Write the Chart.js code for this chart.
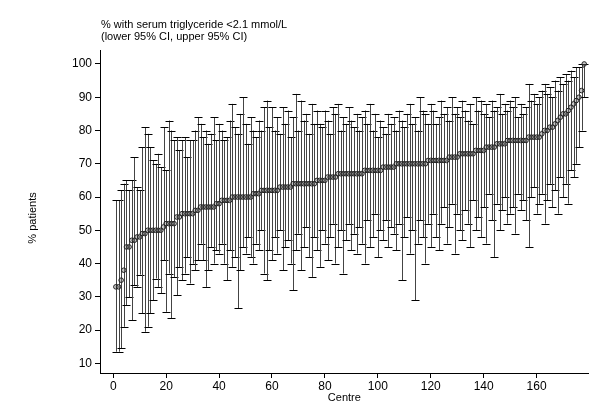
<!DOCTYPE html>
<html><head><meta charset="utf-8">
<script src="https://cdn.jsdelivr.net/npm/chart.js@4"></script>
<style>html,body{margin:0;padding:0;background:#fff}#w{position:relative;width:592px;height:405px}</style>
</head><body><div id="w"><canvas id="c" width="592" height="405"></canvas></div>
<script>
const centres = Array.from({length:178},(_, i)=>i+1);
const pct = [33,33,35,38,45,45,47,47,48,48,49,49,50,50,50,50,50,50,51,52,52,52,52,54,54,55,55,55,55,55,56,56,57,57,57,57,57,57,58,58,59,59,59,59,60,60,60,60,60,60,60,60,61,61,61,62,62,62,62,62,62,62,63,63,63,63,63,64,64,64,64,64,64,64,64,64,65,65,65,65,66,66,66,66,67,67,67,67,67,67,67,67,67,67,68,68,68,68,68,68,68,69,69,69,69,69,70,70,70,70,70,70,70,70,70,70,70,70,71,71,71,71,71,71,71,71,72,72,72,72,73,73,73,73,73,73,74,74,74,74,75,75,75,75,76,76,76,76,77,77,77,77,77,77,77,77,78,78,78,78,78,79,80,80,81,81,82,83,84,85,85,86,87,88,89,90,92,100];
const upper = [59,59,62,64,65,62,65,72,63,62,75,81,79,75,71,70,73,69,81,68,83,80,77,78,74,77,78,72,77,77,80,84,82,
78,80,76,79,84,77,82,80,77,78,83,88,81,79,85,90,82,76,84,80,78,83,80,87,89,81,87,
80,84,79,87,82,86,78,84,91,80,89,83,85,79,88,82,86,82,81,86,83,79,87,85,88,80,84,82,87,83,
81,85,80,84,86,82,88,80,85,78,83,81,79,85,82,84,80,86,83,81,85,88,82,84,80,90,86,85,82,88,
86,82,84,89,85,87,83,90,85,87,84,89,86,83,88,82,90,86,89,85,88,84,89,86,87,91,85,88,86,89,
87,90,84,88,85,87,94,89,91,88,90,92,94,91,93,90,95,92,96,94,97,95,98,96,99,99,100,100];
const lower = [13.5,13.5,14.5,21,27.5,29.8,23,33.5,33,36.7,25,19.5,21,25,29,35.5,33,31,41,25.5,37,23.5,36,30.5,39,35,37,42,34,40,38,41,46,
41,33,38,45,40,44,43,46,40,35,44,39,42,26.5,38,45,43,48,42,40,46,44,50,37,35,44,41,
48,43,50,38,45,47,40,32,44,49,38,45,51,42,36,48,44,39,50,46,41,48,52,40,45,50,37,47,52,44,
49,43,51,46,40,53,45,48,55,42,50,47,53,45,51,49,44,52,35,48,54,43,50,29,46,53,48,40,52,45,
55,48,44,52,57,46,51,58,43,55,50,47,56,52,45,59,50,54,48,57,46,61,53,42,58,50,56,60,52,55,
57,49,61,56,59,53,45,60,63,55,58,61,52,59,64,57,62,55,66,60,64,58,68,66,70,75,80,90];
const xTicks = [0,20,40,60,80,100,120,140,160];
const yTicks = [10,20,30,40,50,60,70,80,90,100];

const errPlugin = {
  id:'err',
  beforeDatasetsDraw(chart){
    const ctx=chart.ctx, xs=chart.scales.x, ys=chart.scales.y;
    ctx.save();
    ctx.lineWidth=1;
    for(let i=0;i<centres.length;i++){
      const x=Math.round(xs.getPixelForValue(centres[i]))+0.5;
      const yt=ys.getPixelForValue(upper[i]), yb=ys.getPixelForValue(lower[i]);
      ctx.strokeStyle='#444';
      ctx.beginPath();ctx.moveTo(x,yt);ctx.lineTo(x,yb);ctx.stroke();
      ctx.strokeStyle='#000';
      ctx.beginPath();
      ctx.moveTo(x-4,Math.round(yt)+0.5);ctx.lineTo(x+4,Math.round(yt)+0.5);
      ctx.moveTo(x-4,Math.round(yb)+0.5);ctx.lineTo(x+4,Math.round(yb)+0.5);
      ctx.stroke();
    }
    ctx.restore();
  },
  afterDraw(chart){
    const ctx=chart.ctx;
    ctx.save();
    ctx.fillStyle='#000';
    ctx.font='11px "Liberation Sans", Arial, sans-serif';
    ctx.textBaseline='alphabetic';
    ctx.fillText('% with serum triglyceride <2.1 mmol/L',101,28);
    ctx.fillText('(lower 95% CI, upper 95% CI)',101,40);
    ctx.translate(36,218);ctx.rotate(-Math.PI/2);
    ctx.textAlign='center';
    ctx.fillText('% patients',0,0);
    ctx.restore();
  }
};

const F={family:'"Liberation Sans", Arial, sans-serif',size:12};
new Chart(document.getElementById('c'),{
  type:'scatter',
  data:{datasets:[{
    data:centres.map((c,i)=>({x:c,y:pct[i]})),
    pointRadius:2.3,pointBorderWidth:1,pointBorderColor:'#222',pointBackgroundColor:'rgba(120,120,120,0.4)',
    pointHoverRadius:2.3
  }]},
  options:{
    responsive:false,animation:false,
    plugins:{legend:{display:false},tooltip:{enabled:false}},
    layout:{padding:{top:50,right:0,left:0,bottom:0}},
    scales:{
      x:{type:'linear',min:-5,max:179.7,
        afterBuildTicks:s=>{s.ticks=xTicks.map(v=>({value:v}));},
        afterFit:s=>{s.height=32;},
        grid:{display:true,drawOnChartArea:false,tickLength:5,color:'#000'},
        border:{display:true,color:'#000',width:1},
        ticks:{color:'#000',font:F,padding:1,maxRotation:0,autoSkip:false},
        title:{display:true,text:'Centre',color:'#000',font:{family:F.family,size:11},padding:{top:-3,bottom:0}}
      },
      y:{type:'linear',min:7.1,max:104.2,
        afterBuildTicks:s=>{s.ticks=yTicks.map(v=>({value:v}));},
        afterFit:s=>{s.width=100;},
        grid:{display:true,drawOnChartArea:false,tickLength:5,color:'#000'},
        border:{display:true,color:'#000',width:1},
        ticks:{color:'#000',font:F,padding:3,autoSkip:false}
      }
    }
  },
  plugins:[errPlugin]
});
</script></body></html>
